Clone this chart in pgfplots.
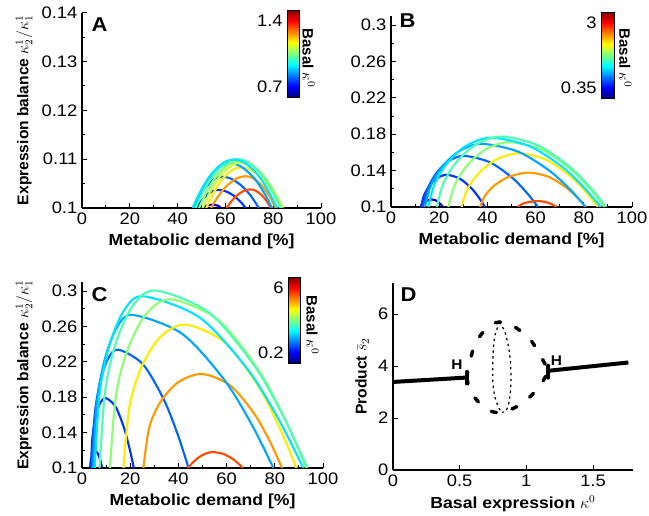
\documentclass[border=0pt]{standalone}
\usepackage{fontspec}
\setmainfont{Liberation Sans}[FakeStretch=1.1]
\newfontfamily\rotfont{Liberation Sans}
\usepackage{pgfplots}
\pgfplotsset{compat=1.18}
\usetikzlibrary{calc}

\definecolor{j1}{rgb}{0,0,0.85}
\definecolor{j2}{rgb}{0,0.2,1}
\definecolor{j3}{rgb}{0,0.4,1}
\definecolor{j4}{rgb}{0,0.65,1}
\definecolor{j5}{rgb}{0,0.9,1}
\definecolor{j6}{rgb}{0.3,1,0.7}
\definecolor{j7}{rgb}{0.55,1,0.45}
\definecolor{j8}{rgb}{0.78,1,0.22}
\definecolor{j9}{rgb}{1,0.93,0}
\definecolor{j10}{rgb}{1,0.6,0}
\definecolor{j11}{rgb}{1,0.3,0}

\pgfplotsset{
  panel/.style={
    scale only axis, anchor=south west,
    axis x line=bottom, axis y line=left,
    axis line style={-, line width=0.9pt},
    every outer x axis line/.append style={-},
    every outer y axis line/.append style={-},
    tick align=inside,
    major tick length=4pt, minor tick length=2.2pt,
    every tick/.append style={black, line width=0.7pt},
    tick label style={font=\fontsize{12.5}{14}\selectfont},
    /pgf/number format/assume math mode=true,
    label style={font=\fontsize{12}{14}\selectfont\bfseries},
    ylabel style={font=\rotfont\fontsize{11.7}{14}\selectfont\bfseries},
    clip mode=individual,
  },
  demand/.style={
    xmin=0, xmax=100, xtick={0,20,...,100}, minor x tick num=1,
    minor y tick num=1,
    yticklabel style={/pgf/number format/fixed, /pgf/number format/precision=2},
    xlabel={Metabolic demand [\%]},
  },
  cbar/.style={
    scale only axis,
    yticklabel pos=left,
    yticklabel style={anchor=south east},
    extra y tick style={yticklabel style={anchor=north east}},
    major tick length=0pt,
    tick label style={font=\fontsize{12.5}{14}\selectfont},
    /pgf/number format/assume math mode=true,
    axis line style={line width=0.5pt},
  },
  cv/.style={smooth, line width=1.6pt, line join=round},
}

\begin{document}
\begin{tikzpicture}
\useasboundingbox (0,0) rectangle (486.75pt,387pt);

% ---- A ----
\begin{axis}[panel, demand, at={(61.5pt,231pt)}, width=179.25pt, height=146.5pt,
  ymin=0.1, ymax=0.14, ytick={0.1,0.11,0.12,0.13,0.14},
  ylabel={Expression balance $\kappa_2^1/\kappa_1^1$},
  colorbar, colormap/jet, point meta min=0.7, point meta max=1.4,
  colorbar style={cbar, at={($(parent axis.north west)+(145.5pt,2pt)$)}, anchor=north west,
    width=9pt, height=65.25pt, ytick={0.7}, extra y ticks={1.4}}]
\addplot[j1, cv] coordinates {(51,0.1) (52,0.10045) (54.5,0.1007) (57,0.10045) (58,0.1)};
\addplot[j2, cv] coordinates {(48,0.1) (49.8,0.10133) (52.05,0.10258) (54.75,0.10347) (57,0.1037) (59.875,0.10347) (63.325,0.10258) (66.2,0.10133) (68.5,0.1)};
\addplot[j3, cv] coordinates {(47,0.1) (49.3,0.1023) (52.175,0.10446) (55.625,0.106) (58.5,0.1064) (62.375,0.106) (67.025,0.10446) (70.9,0.1023) (74,0.1)};
\addplot[j11, cv] coordinates {(60.5,0.1) (62.5,0.10137) (65,0.10265) (68,0.10356) (70.5,0.1038) (72.625,0.10356) (75.175,0.10265) (77.3,0.10137) (79,0.1)};
\addplot[j10, cv] coordinates {(54,0.1) (56.9,0.10234) (60.525,0.10453) (64.875,0.10609) (68.5,0.1065) (71.625,0.10609) (75.375,0.10453) (78.5,0.10234) (81,0.1)};
\addplot[j9, cv] coordinates {(52,0.1) (54.9,0.10299) (58.525,0.10579) (62.875,0.10778) (66.5,0.1083) (70.75,0.10778) (75.85,0.10579) (80.1,0.10299) (83.5,0.1)};
\addplot[j4, cv] coordinates {(46.5,0.1) (49.6,0.10328) (53.475,0.10635) (58.125,0.10853) (62,0.1091) (66.375,0.10853) (71.625,0.10635) (76,0.10328) (79.5,0.1)};
\addplot[j8, cv] coordinates {(50.5,0.1) (53.7,0.10335) (57.7,0.10649) (62.5,0.10872) (66.5,0.1093) (70.875,0.10872) (76.125,0.10649) (80.5,0.10335) (84,0.1)};
\addplot[j7, cv] coordinates {(49,0.1) (52.4,0.10349) (56.65,0.10677) (61.75,0.10909) (66,0.1097) (70.375,0.10909) (75.625,0.10677) (80,0.10349) (83.5,0.1)};
\addplot[j6, cv] coordinates {(47.5,0.1) (51,0.1036) (55.375,0.10698) (60.625,0.10938) (65,0.11) (69.5,0.10938) (74.9,0.10698) (79.4,0.1036) (83,0.1)};
\addplot[j5, cv] coordinates {(46.3,0.1) (49.74,0.10356) (54.04,0.1069) (59.2,0.10928) (63.5,0.1099) (68,0.10928) (73.4,0.1069) (77.9,0.10356) (81.5,0.1)};
\end{axis}

% ---- B ----
\begin{axis}[panel, demand, at={(293.25pt,231.75pt)}, width=180.75pt, height=143.3pt,
  ymin=0.1, ymax=0.31, ytick={0.1,0.14,0.18,0.22,0.26,0.3},
  colorbar, colormap/jet, point meta min=0.35, point meta max=3,
  colorbar style={cbar, at={($(parent axis.north west)+(149.25pt,2.95pt)$)}, anchor=north west,
    width=9.5pt, height=64.5pt, ytick={0.35}, extra y ticks={3}}]
\addplot[j1, cv] coordinates {(12.3,0.1) (12.77,0.10274) (13.71,0.10523) (15.12,0.1073) (17,0.1083) (18.575,0.10728) (19.925,0.10479) (20.825,0.1023) (21.5,0.1)};
\addplot[j2, cv] coordinates {(12.5,0.1) (13.55,0.11168) (15.65,0.1223) (18.8,0.13115) (23,0.1354) (28.6,0.13106) (33.4,0.12044) (36.6,0.10982) (39,0.1)};
\addplot[j3, cv] coordinates {(13.3,0.1) (14.97,0.11855) (18.31,0.13541) (23.32,0.14946) (30,0.1562) (40.85,0.14932) (50.15,0.13246) (56.35,0.1156) (61,0.1)};
\addplot[j11, cv] coordinates {(52.8,0.1) (53.62,0.10215) (55.26,0.1041) (57.72,0.10572) (61,0.1065) (63.73,0.1057) (66.07,0.10375) (67.63,0.1018) (68.8,0.1)};
\addplot[j10, cv] coordinates {(37,0.1) (39,0.11247) (43,0.12381) (49,0.13326) (57,0.1378) (65.33,0.13317) (72.47,0.12183) (77.23,0.11049) (80.8,0.1)};
\addplot[j9, cv] coordinates {(29.3,0.1) (31.67,0.11947) (36.41,0.13717) (43.52,0.15192) (53,0.159) (64.48,0.15177) (74.32,0.13407) (80.88,0.11637) (85.8,0.1)};
\addplot[j4, cv] coordinates {(14.1,0.1) (16.44,0.1229) (21.12,0.14372) (28.14,0.16107) (37.5,0.1694) (52.655,0.1609) (65.645,0.14008) (74.305,0.11926) (80.8,0.1)};
\addplot[j7, cv] coordinates {(23.8,0.1) (26.32,0.12353) (31.36,0.14492) (38.92,0.16274) (49,0.1713) (62.825,0.16257) (74.675,0.14118) (82.575,0.11979) (88.5,0.1)};
\addplot[j5, cv] coordinates {(15.5,0.1) (18.1,0.12515) (23.3,0.14801) (31.1,0.16706) (41.5,0.1762) (57.425,0.16687) (71.075,0.14401) (80.175,0.12115) (87,0.1)};
\addplot[j6, cv] coordinates {(19,0.1) (21.65,0.12554) (26.95,0.14876) (34.9,0.16811) (45.5,0.1774) (60.795,0.16792) (73.905,0.1447) (82.645,0.12148) (89.2,0.1)};
\end{axis}

% ---- C ----
\begin{axis}[panel, demand, at={(61.5pt,36pt)}, width=180.75pt, height=139.4pt,
  ymin=0.1, ymax=0.31, ytick={0.1,0.14,0.18,0.22,0.26,0.3},
  ylabel={Expression balance $\kappa_2^1/\kappa_1^1$},
  colorbar, colormap/jet, point meta min=0.2, point meta max=6,
  colorbar style={cbar, at={($(parent axis.north west)+(146.25pt,3.85pt)$)}, anchor=north west,
    width=9pt, height=64.5pt, ytick={0.2}, extra y ticks={6}}]
\addplot[j1, cv] coordinates {(3.4,0.1) (3.63,0.10807) (4.09,0.11321) (4.78,0.11696) (5.7,0.1185) (6.61,0.11623) (7.39,0.11068) (7.91,0.10513) (8.3,0.1)};
\addplot[j2, cv] coordinates {(3.7,0.1) (4.31,0.13444) (5.53,0.15641) (7.36,0.17244) (9.8,0.179) (13.895,0.16932) (17.405,0.14562) (19.745,0.12192) (21.5,0.1)};
\addplot[j3, cv] coordinates {(4.1,0.1) (5.19,0.15829) (7.37,0.19546) (10.64,0.2226) (15,0.2337) (25.22,0.21732) (33.98,0.17721) (39.82,0.1371) (44.2,0.1)};
\addplot[j11, cv] coordinates {(44,0.1) (46.1,0.1065) (48.725,0.11256) (51.875,0.11688) (54.5,0.118) (58.77,0.1158) (62.43,0.1104) (64.87,0.105) (66.7,0.1)};
\addplot[j10, cv] coordinates {(25.5,0.1) (27.95,0.1463) (32.85,0.17583) (40.2,0.19739) (50,0.2062) (61.55,0.19319) (71.45,0.16133) (78.05,0.12947) (83,0.1)};
\addplot[j4, cv] coordinates {(4.6,0.1) (6.24,0.17543) (9.52,0.22352) (14.44,0.25864) (21,0.273) (41.44,0.25181) (58.96,0.19991) (70.64,0.14801) (79.4,0.1)};
\addplot[j9, cv] coordinates {(17.2,0.1) (19.78,0.17063) (24.94,0.21567) (32.68,0.24855) (43,0.262) (59.1,0.24216) (72.9,0.19356) (82.1,0.14496) (89,0.1)};
\addplot[j5, cv] coordinates {(5.3,0.1) (7.32,0.18458) (11.36,0.23852) (17.42,0.2779) (25.5,0.294) (48.705,0.27024) (68.595,0.21204) (81.855,0.15384) (91.8,0.1)};
\addplot[j7, cv] coordinates {(11.6,0.1) (14.14,0.18306) (19.22,0.23602) (26.84,0.27469) (37,0.2905) (56.6,0.26716) (73.4,0.21001) (84.6,0.15286) (93,0.1)};
\addplot[j6, cv] coordinates {(7.3,0.1) (9.62,0.18742) (14.26,0.24316) (21.22,0.28386) (30.5,0.3005) (52.55,0.27594) (71.45,0.21579) (84.05,0.15564) (93.5,0.1)};
\end{axis}

% ---- D ----
\begin{axis}[panel, at={(294.75pt,34.5pt)}, width=180pt, height=140.25pt,
  xmin=0, xmax=1.8, ymin=0, ymax=7.2, xtick={0,0.5,1,1.5}, ytick={0,2,4,6},
  xlabel={Basal expression $\kappa^0$}, ylabel={Product $\bar{s}_2$}]
\addplot[black, line width=3pt] coordinates {(0,3.39) (0.553,3.56)};
\addplot[black, line width=3pt] coordinates {(1.165,3.82) (1.765,4.14)};
\addplot[black, line width=2.8pt, line cap=round] coordinates {(0.553,3.33) (0.553,3.78)};
\addplot[black, line width=2.8pt, line cap=round] coordinates {(1.165,3.55) (1.165,4.02)};
\addplot[black, smooth, line width=2.6pt, line cap=round, dash pattern=on 4pt off 12pt] coordinates {
  (0.553,3.58) (0.575,4.15) (0.615,4.85) (0.678,5.32) (0.74,5.6) (0.80,5.7) (0.88,5.6) (0.965,5.32) (1.04,4.95) (1.10,4.45) (1.165,3.85)};
\addplot[black, smooth, line width=2.6pt, line cap=round, dash pattern=on 4pt off 12pt] coordinates {
  (0.553,3.52) (0.58,3.05) (0.628,2.69) (0.70,2.35) (0.765,2.22) (0.85,2.27) (0.928,2.44) (1.00,2.7) (1.058,2.97) (1.11,3.3) (1.165,3.78)};
\addplot[black, smooth, line width=0.9pt, dash pattern=on 1.8pt off 2.6pt] coordinates {
  (0.80,5.7) (0.765,5.2) (0.752,4.6) (0.748,3.9) (0.75,3.3) (0.765,2.8) (0.797,2.35) (0.82,2.22)};
\addplot[black, smooth, line width=0.9pt, dash pattern=on 1.8pt off 2.6pt] coordinates {
  (0.80,5.7) (0.84,5.3) (0.868,4.7) (0.883,4.0) (0.883,3.2) (0.87,2.6) (0.85,2.3) (0.82,2.22)};
\node[font=\fontsize{10.5}{12}\selectfont\bfseries] at (axis cs:0.48,4.04) {H};
\node[font=\fontsize{10.5}{12}\selectfont\bfseries] at (axis cs:1.225,4.22) {H};
\end{axis}

% panel letters and colorbar titles
\node[font=\fontsize{15}{18}\selectfont\bfseries] at (74.6pt,368.6pt) {A};
\node[font=\fontsize{15}{18}\selectfont\bfseries] at (305.6pt,371.6pt) {B};
\node[font=\fontsize{15}{18}\selectfont\bfseries] at (74.6pt,165.75pt) {C};
\node[font=\fontsize{15}{18}\selectfont\bfseries] at (306.4pt,165.75pt) {D};
\node[rotate=-90, font=\rotfont\fontsize{11.3}{13}\selectfont\bfseries] at (231.5pt,343.5pt) {Basal $\kappa^0$};
\node[rotate=-90, font=\rotfont\fontsize{11.3}{13}\selectfont\bfseries] at (469pt,343.5pt) {Basal $\kappa^0$};
\node[rotate=-90, font=\rotfont\fontsize{11.3}{13}\selectfont\bfseries] at (234.4pt,143.25pt) {Basal $\kappa^0$};
\end{tikzpicture}
\end{document}
